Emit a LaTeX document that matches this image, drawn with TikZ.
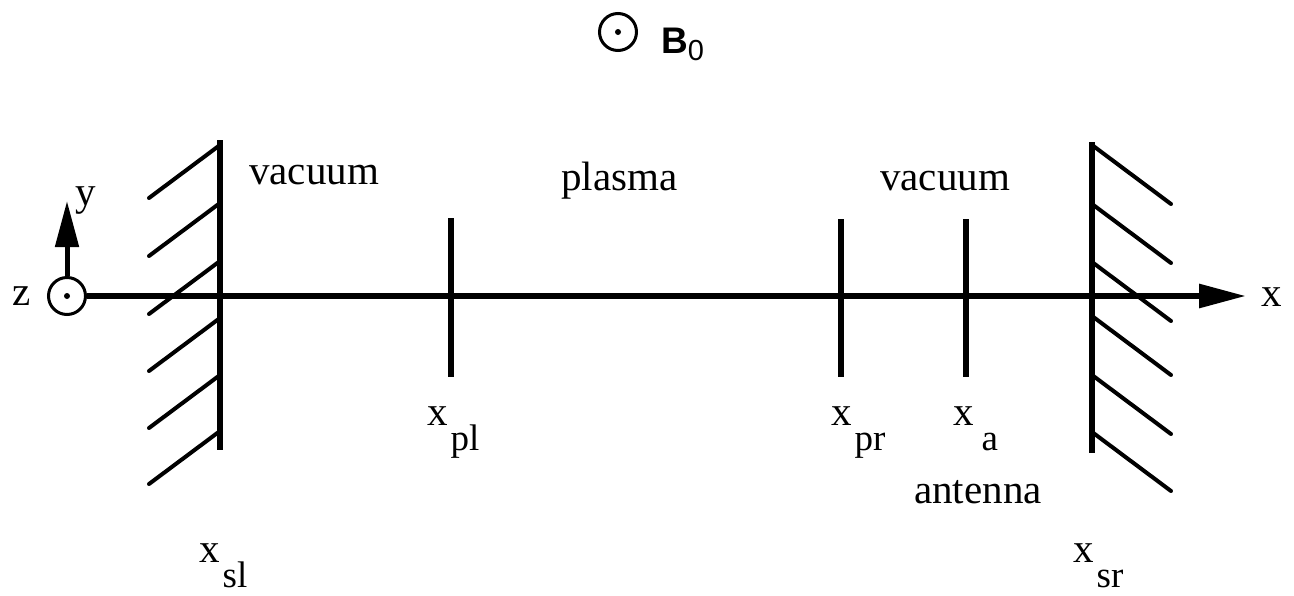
\documentclass[tikz,border=0pt]{standalone}
\usepackage{fontspec}
\setmainfont{Liberation Serif}
\newfontfamily\bsans{Liberation Sans}
\usetikzlibrary{arrows.meta}
\tikzset{
  lbl/.style={inner sep=0pt, anchor=base west, font=\fontsize{41}{48}\selectfont},
  wall/.style={line width=6pt},
  hatch/.style={line width=4pt, line cap=round},
  tick/.style={line width=6pt},
  axis/.style={line width=6pt},
  ring/.style={circle, draw, line width=3pt, minimum size=37pt, inner sep=0pt},
}
\newcommand{\xsub}[1]{x\hspace{3pt}\raisebox{-25pt}[\height][0pt]{\fontsize{37}{44}\selectfont #1}}
\begin{document}
\begin{tikzpicture}[x=1pt,y=-1pt]
\useasboundingbox (0,0) rectangle (1294,595);
% B0
\node[ring] (bring) at (618,32) {};
\fill (bring.center) circle (3pt);
\node[inner sep=0pt, anchor=base west, font=\fontsize{37}{42}\selectfont\bsans\bfseries] (b0) at (661,53) {B\raisebox{-7pt}{\fontsize{29}{32}\selectfont\mdseries 0}};
% origin
\node[ring] (zring) at (67,296) {};
\fill (zring.center) circle (3pt);
\node[lbl] (zl) at (12,305) {z};
\node[lbl] (yl) at (75,205) {y};
\node[lbl] (xl) at (1261,306) {x};
\coordinate (ytip) at (67,201);
\coordinate (xtip) at (1246,296);
\draw[line width=5pt, -{Triangle[length=46pt,width=23pt]}] (zring.north) -- (ytip);
\draw[axis, -{Triangle[length=47pt,width=23pt]}] (zring.east) -- (xtip);
% walls
\coordinate (lwt) at (220,140);
\coordinate (lwb) at (220,450);
\coordinate (rwt) at (1092,142);
\coordinate (rwb) at (1092,453);
\draw[wall] (lwt) -- (lwb);
\draw[wall] (rwt) -- (rwb);
\foreach \yy in {145,203,261,318,375,431}{
  \draw[hatch] (220,\yy) -- ++(-71,53);
}
\foreach \yy in {145,204,262,316,375,432}{
  \draw[hatch] (1092,\yy) -- ++(79,59);
}
% ticks
\coordinate (plt) at (451,218); \coordinate (plb) at (451,377);
\coordinate (prt) at (841,219); \coordinate (prb) at (841,377);
\coordinate (at) at (966,219);  \coordinate (ab) at (966,377);
\draw[tick] (plt) -- (plb);
\draw[tick] (prt) -- (prb);
\draw[tick] (at) -- (ab);
% region labels
\node[lbl] (vac1) at (249,184) {vacuum};
\node[lbl] (plas) at (561,190) {plasma};
\node[lbl] (vac2) at (880,190) {vacuum};
\node[lbl] (ant) at (914,503) {antenna};
% position labels
\node[lbl] (xpl) at (427,425) {\xsub{pl}};
\node[lbl] (xpr) at (831,425) {\xsub{pr}};
\node[lbl] (xa) at (953,425) {x\hspace{8pt}\raisebox{-25pt}[\height][0pt]{\fontsize{37}{44}\selectfont a}};
\node[lbl] (xsl) at (199,562) {\xsub{sl}};
\node[lbl] (xsr) at (1073,562) {\xsub{sr}};
\end{tikzpicture}
\end{document}
